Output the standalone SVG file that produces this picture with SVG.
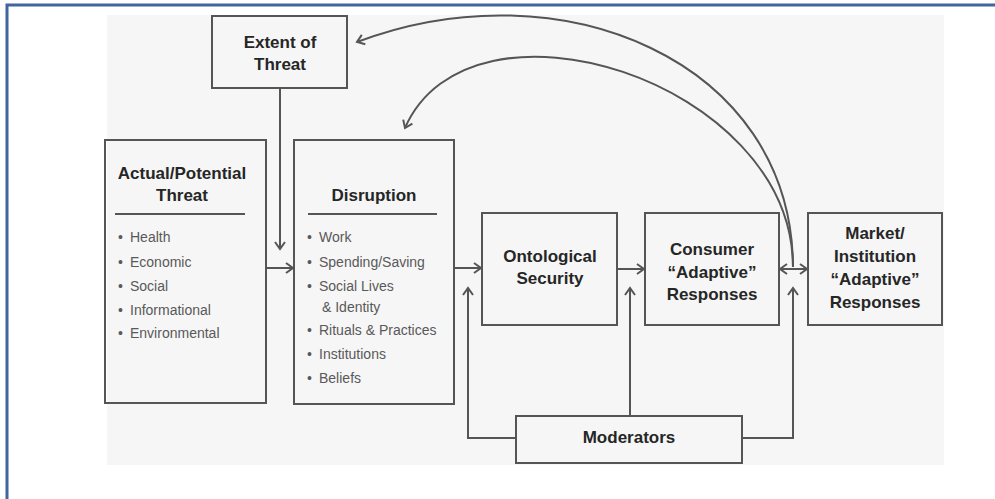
<svg xmlns="http://www.w3.org/2000/svg" width="995" height="499" viewBox="0 0 995 499">
  <style>
    .box { fill: none; stroke: #555; stroke-width: 2; }
    .title { font-family: "Liberation Sans", Arial, sans-serif; font-weight: bold; font-size: 17px; fill: #262626; text-anchor: middle; }
    .item { font-family: "Liberation Sans", Arial, sans-serif; font-size: 14px; fill: #595959; }
    .rule { stroke: #555; stroke-width: 2; }
    .conn { fill: none; stroke: #555; stroke-width: 2; }
  </style>
  <defs>
    <marker id="open-arrow" markerUnits="userSpaceOnUse" markerWidth="16" markerHeight="16" viewBox="-9 -8 11 16" refX="0" refY="0" orient="auto-start-reverse">
      <path d="M-7,-5 L0,0 L-7,5" fill="none" stroke="#555" stroke-width="2"/>
    </marker>
  </defs>

  <rect width="995" height="499" fill="#ffffff"/>
  <!-- page frame -->
  <path d="M7,499 V5 H995" fill="none" stroke="#41659e" stroke-width="3"/>
  <!-- figure panel -->
  <rect x="107" y="15" width="837" height="450" fill="#f6f6f6"/>

  <g id="connectors">
    <path class="conn" d="M280,88 V249" marker-end="url(#open-arrow)"/>
    <path class="conn" d="M266,268 H293" marker-end="url(#open-arrow)"/>
    <path class="conn" d="M454,268 H481" marker-end="url(#open-arrow)"/>
    <path class="conn" d="M617,269 H644" marker-end="url(#open-arrow)"/>
    <path class="conn" d="M780,269 H807" marker-start="url(#open-arrow)" marker-end="url(#open-arrow)"/>
    <path class="conn" d="M793,267 C792,60 560,-35 357,42" marker-end="url(#open-arrow)"/>
    <path class="conn" d="M793,267 C792,80 470,-20 405,128" marker-end="url(#open-arrow)"/>
    <path class="conn" d="M516,438 H468 V288" marker-end="url(#open-arrow)"/>
    <path class="conn" d="M630,416 V288" marker-end="url(#open-arrow)"/>
    <path class="conn" d="M742,438 H793 V288" marker-end="url(#open-arrow)"/>
  </g>

  <g id="extent-of-threat">
    <rect class="box" x="212" y="16" width="135" height="72"/>
    <text class="title" x="280" y="48">Extent of</text>
    <text class="title" x="280" y="70">Threat</text>
  </g>

  <g id="actual-potential-threat">
    <rect class="box" x="105" y="140" width="161" height="263"/>
    <text class="title" x="182" y="179">Actual/Potential</text>
    <text class="title" x="182" y="201">Threat</text>
    <line class="rule" x1="115" y1="214" x2="245" y2="214"/>
    <g class="item">
      <text x="118" y="242">•</text><text x="130" y="242">Health</text>
      <text x="118" y="267">•</text><text x="130" y="267">Economic</text>
      <text x="118" y="291">•</text><text x="130" y="291">Social</text>
      <text x="118" y="315">•</text><text x="130" y="315">Informational</text>
      <text x="118" y="338">•</text><text x="130" y="338">Environmental</text>
    </g>
  </g>

  <g id="disruption">
    <rect class="box" x="294" y="140" width="160" height="264"/>
    <text class="title" x="374" y="201">Disruption</text>
    <line class="rule" x1="308" y1="214" x2="437" y2="214"/>
    <g class="item">
      <text x="307" y="242">•</text><text x="319" y="242">Work</text>
      <text x="307" y="267">•</text><text x="319" y="267">Spending/Saving</text>
      <text x="307" y="291">•</text><text x="319" y="291">Social Lives</text>
      <text x="322" y="312">&amp; Identity</text>
      <text x="307" y="335">•</text><text x="319" y="335">Rituals &amp; Practices</text>
      <text x="307" y="359">•</text><text x="319" y="359">Institutions</text>
      <text x="307" y="383">•</text><text x="319" y="383">Beliefs</text>
    </g>
  </g>

  <g id="ontological-security">
    <rect class="box" x="482" y="213" width="135" height="112"/>
    <text class="title" x="550" y="262">Ontological</text>
    <text class="title" x="550" y="284">Security</text>
  </g>

  <g id="consumer-adaptive-responses">
    <rect class="box" x="645" y="213" width="134" height="112"/>
    <text class="title" x="712" y="255">Consumer</text>
    <text class="title" x="712" y="278">“Adaptive”</text>
    <text class="title" x="712" y="300">Responses</text>
  </g>

  <g id="market-institution-adaptive-responses">
    <rect class="box" x="808" y="213" width="134" height="112"/>
    <text class="title" x="875" y="239">Market/</text>
    <text class="title" x="875" y="262">Institution</text>
    <text class="title" x="875" y="285">“Adaptive”</text>
    <text class="title" x="875" y="308">Responses</text>
  </g>

  <g id="moderators">
    <rect class="box" x="516" y="416" width="226" height="47"/>
    <text class="title" x="629" y="443">Moderators</text>
  </g>
</svg>
